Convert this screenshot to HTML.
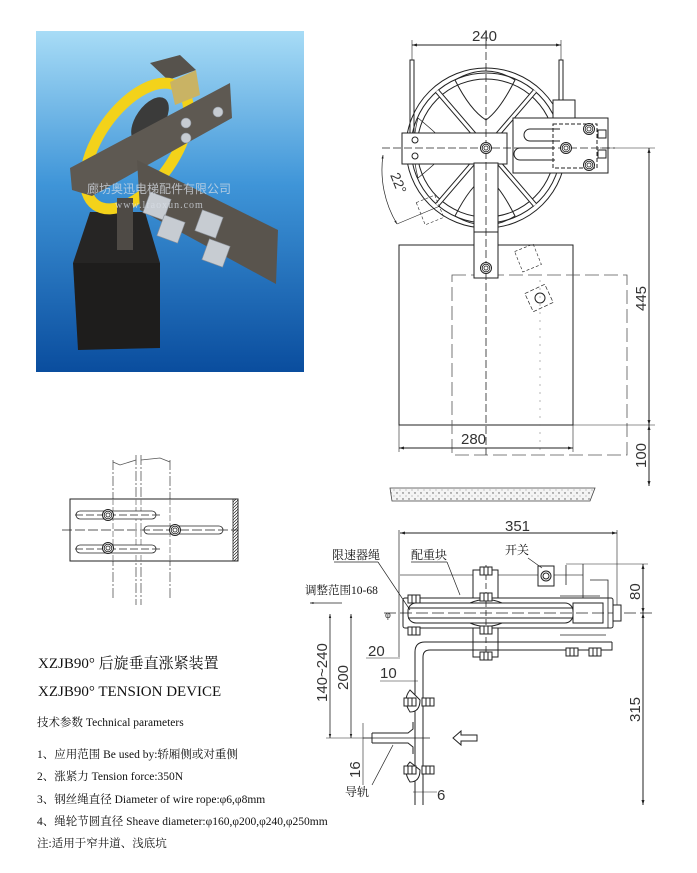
<!DOCTYPE html>
<html><head><meta charset="utf-8"><style>
html,body{margin:0;padding:0;background:#fff;}
svg{display:block}
.t{font-family:"Liberation Sans","Noto Sans CJK SC",sans-serif;}
.s{font-family:"Liberation Serif","Noto Serif CJK SC","Noto Sans CJK SC",serif;}
</style></head><body>
<svg width="697" height="873" viewBox="0 0 697 873" xmlns="http://www.w3.org/2000/svg">
<defs>
<linearGradient id="bg" x1="0" y1="0" x2="0" y2="1">
<stop offset="0" stop-color="#a8dcf6"/><stop offset="0.45" stop-color="#3f95d8"/><stop offset="1" stop-color="#0a4d9e"/>
</linearGradient>
<marker id="a" viewBox="0 0 10 10" refX="10" refY="5" markerWidth="7" markerHeight="5" orient="auto-start-reverse"><path d="M0,2 L10,5 L0,8z" fill="#222"/></marker>
<g id="bolt"><circle r="5.5" fill="#fff" stroke="#222" stroke-width="1"/><circle r="3.8" fill="none" stroke="#222" stroke-width="0.8"/><circle r="2" fill="none" stroke="#222" stroke-width="0.8"/></g>
<g id="nut"><rect x="-6" y="-4" width="12" height="8" fill="#fff" stroke="#222" stroke-width="1"/><line x1="-2" y1="-4" x2="-2" y2="4" stroke="#222"/><line x1="2" y1="-4" x2="2" y2="4" stroke="#222"/></g>
<pattern id="dots" width="6" height="6" patternUnits="userSpaceOnUse"><rect width="6" height="6" fill="#f4f4f4"/><circle cx="1" cy="1" r="0.7" fill="#555"/><circle cx="4" cy="4" r="0.5" fill="#777"/></pattern>
<pattern id="hatch" width="3" height="3" patternUnits="userSpaceOnUse"><path d="M0,3 L3,0" stroke="#222" stroke-width="0.7"/></pattern>
</defs>

<!-- PHOTO -->
<rect x="36" y="31" width="268" height="341" fill="url(#bg)"/>
<polygon points="150,63 180,55 196,70 168,80" fill="#56524c"/>
<polygon points="73,263 160,263 160,348 78,350" fill="#1e1d1c"/>
<polygon points="90,212 145,212 160,263 73,263" fill="#262524"/>
<ellipse cx="137" cy="146" rx="38" ry="72" transform="rotate(35 137 146)" fill="none" stroke="#f3d21a" stroke-width="11"/>
<ellipse cx="150" cy="120" rx="14" ry="26" transform="rotate(35 150 120)" fill="#3b3b3a"/>
<polygon points="70,168 230,83 232,118 92,196 72,190" fill="#5e5952"/>
<polygon points="170,82 196,70 200,95 175,105" fill="#c9b364"/>
<polygon points="137,160 278,230 276,284 140,210" fill="#59544d"/>
<rect x="117" y="198" width="16" height="52" fill="#4e4a45"/>
<g fill="#c7ccd2" stroke="#8a9099" stroke-width="0.6">
<rect x="146" y="195" width="22" height="22" transform="rotate(20 157 206)"/>
<rect x="160" y="218" width="22" height="22" transform="rotate(20 171 229)"/>
<rect x="198" y="213" width="22" height="22" transform="rotate(20 209 224)"/>
<rect x="205" y="242" width="22" height="22" transform="rotate(20 216 253)"/>
<circle cx="186" cy="123" r="5"/><circle cx="186" cy="138" r="5"/><circle cx="218" cy="112" r="5"/>
</g>
<text x="87" y="193" font-size="12" fill="#d8dee6" opacity="0.75" class="t" font-family="Noto Serif CJK SC,serif">廊坊奥迅电梯配件有限公司</text>
<text x="115" y="208" font-size="10" fill="#d8dee6" opacity="0.75" class="s" letter-spacing="1">www.lfaoxun.com</text>

<!-- TOP RIGHT DRAWING -->
<g stroke="#222" fill="none" stroke-width="1">
<line x1="412" y1="45" x2="561" y2="45" marker-start="url(#a)" marker-end="url(#a)"/>
<line x1="412" y1="40" x2="412" y2="60" stroke-width="0.6"/><line x1="561" y1="40" x2="561" y2="60" stroke-width="0.6"/>
<rect x="410" y="60" width="4" height="75"/><rect x="559" y="60" width="4" height="60"/>
<circle cx="486" cy="148" r="80"/><circle cx="486" cy="148" r="75"/><circle cx="486" cy="148" r="69"/>
<path d="M486,148 L437,91 M486,148 L535,91 M486,148 L437,205 M486,148 L535,205" stroke-width="5" stroke="#222"/>
<path d="M486,148 L437,91 M486,148 L535,91 M486,148 L437,205 M486,148 L535,205" stroke-width="3" stroke="#fff"/>
<path d="M455,80 Q486,62 515,80 Q500,110 486,120 Q470,110 455,80z"/>
<path d="M455,216 Q486,234 515,216 Q500,186 486,176 Q470,186 455,216z"/>
<path d="M418,118 Q410,148 418,178 Q440,160 450,148 Q440,136 418,118z" stroke-width="0.7"/>
<rect x="553" y="100" width="22" height="20" fill="#fff"/>
<rect x="513" y="118" width="95" height="55" fill="#fff"/>
<rect x="402" y="133" width="105" height="31" fill="#fff"/>
<circle cx="415" cy="140" r="3"/><circle cx="415" cy="156" r="3"/>
<rect x="474" y="163" width="24" height="115" fill="#fff"/>
<line x1="474" y1="232" x2="498" y2="232" stroke-dasharray="1,1"/>
<path d="M530,129 H560 M530,141 H560 M530,129 A6,6 0 0 0 530,141" />
<path d="M520,148 H555 M520,160 H555 M520,148 A6,6 0 0 0 520,160"/>
<path d="M530,156 H560 M530,168 H560" stroke-width="0"/>
<rect x="553" y="124" width="44" height="44" stroke-dasharray="4,2"/>
<rect x="598" y="130" width="8" height="8" fill="#fff"/><rect x="598" y="150" width="8" height="8" fill="#fff"/>
<rect x="399" y="245" width="174" height="180"/>
<rect x="452" y="275" width="175" height="180" stroke-dasharray="14,5" stroke-width="0.8" stroke="#555"/>
<rect x="474" y="232" width="24" height="46" fill="#fff"/>
<line x1="486" y1="30" x2="486" y2="455" stroke-dasharray="8,3" stroke-width="0.8"/>
<line x1="382" y1="148" x2="615" y2="148" stroke-dasharray="8,3" stroke-width="0.8"/>
<line x1="540" y1="280" x2="540" y2="455" stroke-dasharray="2,6" stroke-width="0.6" stroke="#888"/>
<rect x="528" y="288" width="22" height="20" transform="rotate(-25 539 298)" stroke-dasharray="4,2" stroke-width="0.7"/>
<circle cx="540" cy="298" r="5"/>
<rect x="420" y="198" width="20" height="24" transform="rotate(-22 430 210)" stroke-dasharray="3,2" stroke-width="0.6"/>
<rect x="518" y="247" width="20" height="22" transform="rotate(-22 528 258)" stroke-dasharray="3,2" stroke-width="0.6"/>
<path d="M383,155 A105,105 0 0 0 397,224" marker-start="url(#a)" marker-end="url(#a)" stroke-width="0.7"/>
<line x1="397" y1="224" x2="440" y2="206" stroke-width="0.6"/>
<line x1="649" y1="148" x2="649" y2="425" marker-start="url(#a)" marker-end="url(#a)"/>
<line x1="649" y1="425" x2="649" y2="486" marker-start="url(#a)" marker-end="url(#a)"/>
<line x1="600" y1="148" x2="655" y2="148" stroke-width="0.6"/><line x1="573" y1="425" x2="655" y2="425" stroke-width="0.6"/>
<line x1="399" y1="448" x2="573" y2="448" marker-start="url(#a)" marker-end="url(#a)"/>
<line x1="399" y1="425" x2="399" y2="452" stroke-width="0.6"/><line x1="573" y1="425" x2="573" y2="452" stroke-width="0.6"/>
</g>
<g fill="#fff" stroke="none"><use href="#bolt" x="486" y="148"/><use href="#bolt" x="486" y="268"/><use href="#bolt" x="589" y="129"/><use href="#bolt" x="566" y="148"/><use href="#bolt" x="589" y="165"/></g>
<polygon points="390,488 595,488 590,501 392,501" fill="url(#dots)" stroke="#444" stroke-width="0.8"/>
<g class="t" fill="#333" font-size="15" font-weight="300">
<text x="472" y="41">240</text>
<text x="461" y="444">280</text>
<text transform="translate(646,311) rotate(-90)">445</text>
<text transform="translate(646,468) rotate(-90)">100</text>
<text transform="translate(390,175) rotate(68)" font-size="14">22°</text>
</g>

<!-- BOTTOM LEFT PLAN -->
<g stroke="#222" fill="none" stroke-width="0.8">
<path d="M113,460 V600 M170,460 V600" stroke-dasharray="10,2,2,2" stroke="#555"/>
<path d="M136,455 V605 M141,455 V605" stroke-dasharray="10,2,2,2" stroke="#555"/>
<path d="M113,462 L120,465 L136,460 M141,460 L160,458 L170,462" stroke="#555"/>
<rect x="70" y="499" width="168" height="62" fill="#fff" stroke-width="1"/>
<rect x="233" y="499" width="5" height="62" fill="url(#hatch)"/>
<path d="M113,499 V561 M170,499 V561 M136,499 V561 M141,499 V561" stroke="#777" stroke-dasharray="6,2"/>
<path d="M80,511 H152 A4,4 0 0 1 152,519 H80 A4,4 0 0 1 80,511z" fill="#fff"/>
<path d="M80,545 H152 A4,4 0 0 1 152,553 H80 A4,4 0 0 1 80,545z" fill="#fff"/>
<path d="M148,526 H219 A4,4 0 0 1 219,534 H148 A4,4 0 0 1 148,526z" fill="#fff"/>
<line x1="62" y1="530" x2="238" y2="530" stroke-dasharray="10,3"/>
<line x1="75" y1="515" x2="160" y2="515" stroke-dasharray="8,3"/>
<line x1="75" y1="549" x2="160" y2="549" stroke-dasharray="8,3"/>
</g>
<use href="#bolt" x="108" y="515"/><use href="#bolt" x="108" y="548"/><use href="#bolt" x="175" y="530"/>

<!-- BOTTOM RIGHT SECTION -->
<g stroke="#222" fill="none" stroke-width="1">
<line x1="400" y1="533" x2="617" y2="533" marker-start="url(#a)" marker-end="url(#a)"/>
<line x1="399" y1="530" x2="399" y2="657" stroke-width="0.7"/>
<line x1="617" y1="530" x2="617" y2="612" stroke-width="0.6"/>
<line x1="400" y1="575" x2="583" y2="575" stroke="#777"/>
<line x1="566" y1="564" x2="648" y2="564" stroke-width="0.6"/>
<line x1="643" y1="564" x2="643" y2="613" marker-start="url(#a)" marker-end="url(#a)"/>
<line x1="643" y1="613" x2="643" y2="805" marker-start="url(#a)" marker-end="url(#a)"/>
<path d="M566,565 V585 M583,564 V600" stroke-width="0.8"/>
<rect x="473" y="570" width="25" height="87" fill="#fff"/>
<rect x="403" y="598" width="210" height="30" rx="2" fill="#fff"/>
<rect x="408" y="603" width="165" height="20" rx="8" fill="#fff"/>
<line x1="408" y1="608" x2="573" y2="608"/><line x1="408" y1="618" x2="573" y2="618"/>
<path d="M470,603 Q486,596 502,603 M470,623 Q486,630 502,623"/>
<rect x="573" y="603" width="30" height="20" fill="#fff"/>
<path d="M590,580 H608 V628 M560,596 H600" stroke-width="0.8"/>
<path d="M384,613 H655" stroke-dasharray="12,4" stroke-width="0.8"/>
<path d="M415,652 V805 M423,657 V805 M415,652 Q415,642 425,642 H612 M423,657 Q423,650 430,650 H612 V642" fill="none"/>
<rect x="538" y="566" width="16" height="20" fill="#fff"/><circle cx="546" cy="576" r="5"/><circle cx="546" cy="576" r="3"/>
<path d="M570,628 H610 M560,635 H606" stroke-width="0.7"/>
<line x1="486" y1="565" x2="486" y2="660" stroke-dasharray="6,3" stroke-width="0.8"/>
<path d="M410,690 Q402,700 410,712 Q420,712 420,700z M410,762 Q402,770 410,782 Q420,782 420,770z" fill="#fff"/>
<path d="M372,733 H408 L413,729 V722 M372,743 H408 L413,747 V754" />
<line x1="372" y1="733" x2="372" y2="743"/>
<line x1="363" y1="738" x2="430" y2="738" stroke-width="0.7"/>
<path d="M453,738 L461,731 V735 H477 V741 H461 V745z" fill="#fff"/>
<line x1="330" y1="614" x2="330" y2="738" marker-start="url(#a)" marker-end="url(#a)" stroke-width="0.8"/>
<line x1="351" y1="614" x2="351" y2="738" marker-start="url(#a)" marker-end="url(#a)" stroke-width="0.8"/>
<line x1="326" y1="738" x2="372" y2="738" stroke-width="0.6"/>
<line x1="363" y1="723" x2="363" y2="785" stroke-width="0.6"/>
<line x1="366" y1="658" x2="400" y2="658" stroke-width="0.6"/><line x1="380" y1="681" x2="418" y2="681" stroke-width="0.6"/>
<line x1="413" y1="792" x2="437" y2="792" stroke-width="0.6"/>
<line x1="378" y1="562" x2="410" y2="610" stroke-width="0.7"/>
<line x1="334" y1="562" x2="378" y2="562" stroke-width="0.7"/>
<line x1="447" y1="562" x2="460" y2="595" stroke-width="0.7"/>
<line x1="411" y1="562" x2="447" y2="562" stroke-width="0.7"/>
<line x1="528" y1="558" x2="542" y2="568" stroke-width="0.7"/>
<line x1="310" y1="603" x2="342" y2="603" stroke-width="0.7" marker-start="url(#a)"/>
<line x1="372" y1="785" x2="393" y2="745" stroke-width="0.7"/>
</g>
<g><use href="#nut" x="486" y="571"/><use href="#nut" x="486" y="597"/><use href="#nut" x="486" y="630"/><use href="#nut" x="486" y="656"/>
<use href="#nut" x="414" y="599"/><use href="#nut" x="414" y="631"/><use href="#nut" x="572" y="652"/><use href="#nut" x="595" y="652"/>
<use href="#nut" x="410" y="702"/><use href="#nut" x="428" y="702"/><use href="#nut" x="410" y="770"/><use href="#nut" x="428" y="770"/>
<rect x="613" y="605" width="8" height="16" fill="#fff" stroke="#222"/></g>
<g class="t" fill="#333" font-size="15" font-weight="300">
<text x="505" y="531">351</text>
<text transform="translate(640,600) rotate(-90)">80</text>
<text transform="translate(640,722) rotate(-90)">315</text>
<text transform="translate(327,702) rotate(-90)">140~240</text>
<text transform="translate(348,690) rotate(-90)">200</text>
<text x="368" y="656">20</text>
<text x="380" y="678">10</text>
<text transform="translate(360,778) rotate(-90)">16</text>
<text x="437" y="800">6</text>
<text x="385" y="618" font-size="9">φ</text>
</g>
<g class="s" fill="#111" font-size="12">
<text x="332" y="559">限速器绳</text>
<text x="411" y="559">配重块</text>
<text x="505" y="554">开关</text>
<text x="305" y="594" font-size="11.5">调整范围10-68</text>
<text x="345" y="796">导轨</text>
</g>

<!-- TEXT -->
<g class="s" fill="#111">
<text x="38" y="668" font-size="15">XZJB90°  后旋垂直涨紧装置</text>
<text x="38" y="696" font-size="15">XZJB90°  TENSION DEVICE</text>
<text x="37" y="726" font-size="11.5">技术参数 Technical parameters</text>
<text x="37" y="758" font-size="11.5">1、应用范围 Be used by:轿厢侧或对重侧</text>
<text x="37" y="780" font-size="11.5">2、涨紧力 Tension force:350N</text>
<text x="37" y="803" font-size="11.5">3、钢丝绳直径 Diameter of wire rope:φ6,φ8mm</text>
<text x="37" y="825" font-size="11.5">4、绳轮节圆直径 Sheave diameter:φ160,φ200,φ240,φ250mm</text>
<text x="37" y="847" font-size="11.5">注:适用于窄井道、浅底坑</text>
</g>
</svg>
</body></html>
